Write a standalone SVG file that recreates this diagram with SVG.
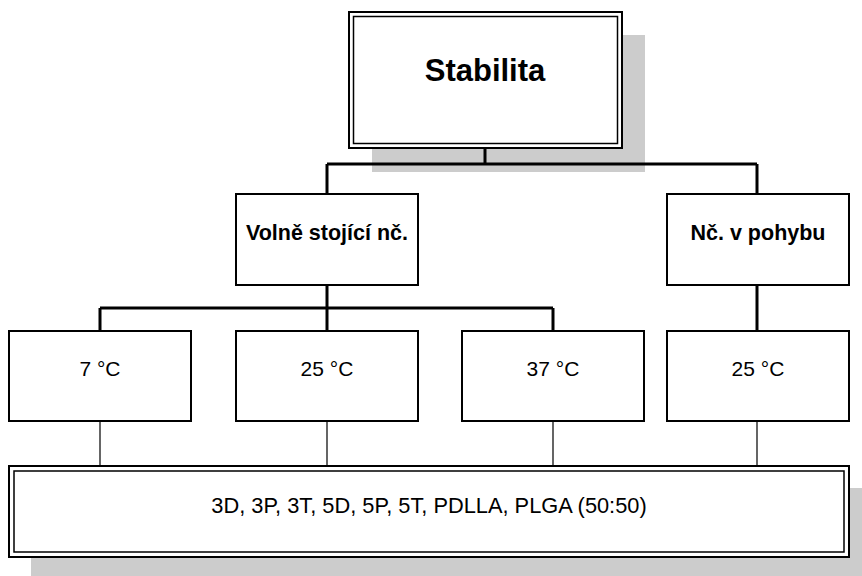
<svg xmlns="http://www.w3.org/2000/svg" width="862" height="576" viewBox="0 0 862 576">
<style>
.box{fill:#fff;stroke:#000;stroke-width:2}
.inner{fill:none;stroke:#000;stroke-width:1.5}
.shadow{fill:#cccccc;stroke:none}
.thick{fill:none;stroke:#000;stroke-width:3}
.thin{fill:none;stroke:#000;stroke-width:1.2}
.b{font-family:"Liberation Sans",Arial,sans-serif;font-weight:bold;text-anchor:middle;fill:#000}
.r{font-family:"Liberation Sans",Arial,sans-serif;text-anchor:middle;fill:#000;font-size:21px}
</style>
<rect width="862" height="576" fill="#fff"/>
<g id="n-stabilita">
<rect class="shadow" x="372" y="35" width="273" height="137"/>
<rect class="box" x="349" y="12" width="273" height="136"/>
<rect class="inner" x="353.5" y="16.5" width="264" height="127"/>
<text class="b" x="485" y="81" font-size="31">Stabilita</text>
</g>
<g id="n-volne">
<rect class="box" x="236" y="194" width="182" height="91"/>
<text class="b" x="327" y="240" font-size="21.5">Volně stojící nč.</text>
</g>
<g id="n-pohyb">
<rect class="box" x="667" y="194" width="182" height="91"/>
<text class="b" x="758" y="240" font-size="21.5">Nč. v pohybu</text>
</g>
<g id="n-7">
<rect class="box" x="9" y="331" width="182" height="90"/>
<text class="r" x="100" y="376">7 °C</text>
</g>
<g id="n-25a">
<rect class="box" x="236" y="331" width="182" height="90"/>
<text class="r" x="327" y="376">25 °C</text>
</g>
<g id="n-37">
<rect class="box" x="462" y="331" width="182" height="90"/>
<text class="r" x="553" y="376">37 °C</text>
</g>
<g id="n-25b">
<rect class="box" x="667" y="331" width="182" height="90"/>
<text class="r" x="758" y="376">25 °C</text>
</g>
<g id="n-samples">
<rect class="shadow" x="31" y="488" width="840" height="91"/>
<rect class="box" x="9" y="466" width="840" height="91"/>
<rect class="inner" x="14" y="471" width="830" height="81"/>
<text class="r" x="429" y="513" style="font-size:21.8px">3D, 3P, 3T, 5D, 5P, 5T, PDLLA, PLGA (50:50)</text>
</g>
<g id="connectors">
<path class="thick" d="M485 148V164M327 164H757M327 164V194M757 164V194"/>
<path class="thick" d="M327 285V331M100 308H553M100 308V331M553 308V331M757 285V331"/>
<path class="thin" d="M100 421V466M327 421V466M553 421V466M757 421V466"/>
</g>
</svg>
